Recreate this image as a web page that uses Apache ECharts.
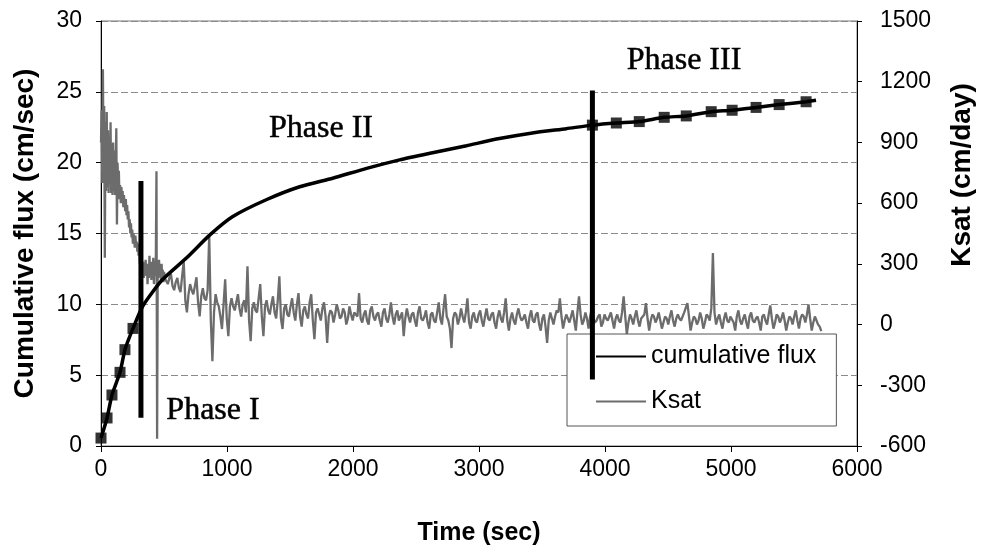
<!DOCTYPE html>
<html><head><meta charset="utf-8">
<script src="https://cdn.jsdelivr.net/npm/echarts@6/dist/echarts.min.js"></script>
<style>html,body{margin:0;padding:0;background:#fff}#c{width:982px;height:554px}</style>
</head><body><div id="c"></div>
<script>
// ---- data ----
const fluxTime  = [0,48,87,151,190,254,333,483,682,864,1046,1316,1577,1839,2108,2370,2631,2901,3162,3424,3693,3900,4090,4272,4470,4645,4843,5009,5199,5382,5596,5675];
const fluxValue = [0.56,1.98,3.6,5.2,6.8,8.3,9.9,11.7,13.3,14.9,16.2,17.4,18.3,18.9,19.6,20.2,20.7,21.2,21.7,22.1,22.4,22.65,22.8,22.9,23.2,23.3,23.6,23.7,23.9,24.1,24.3,24.4];
const fluxMarked = [1,1,1,1,1,1,0,0,0,0,0,0,0,0,0,0,0,0,0,0,0,1,1,1,1,1,1,1,1,1,1,0];

// Ksat (cm/day), early part sampled densely, later part coarser
const ksatEarlyStart = 0, ksatEarlyStep = 5.06;
const ksatEarly = [
 900,1060,700,1262,760,1080,330,1000,660,1050,
 680,960,650,900,700,1000,650,820,640,900,
 660,860,640,780,970,495,800,650,760,620,
 690,600,680,620,660,580,640,600,560,620,
 540,590,520,560,480,520,450,500,430,470,
 400,450,420,380,440,390,410,360,400,340,
 370,300,350,280,330,250,310,230,290,260,
 320,240,300,200,280,230,340,260,310,220,
 300,250,330,200,280,240,330,757,-564,300,
 230,320,250,290,220,300,240,270,210,260,
 230];
const ksatLateStart = 530, ksatLateStep = 25.3;
const ksatLate = [
 200,250,170,230,160,313,60,200,150,234,
 40,180,120,445,-181,150,90,-22,224,-57,
 130,70,150,40,120,288,-82,110,60,200,
 -57,120,50,140,30,239,-22,100,40,130,
 20,155,-10,90,30,150,-72,80,20,110,
 -91,70,10,100,30,80,0,90,20,60,
 155,10,70,0,90,20,60,-10,80,10,
 110,0,70,20,-57,80,10,60,-10,90,
 20,70,-20,60,10,110,0,150,20,-116,
 60,0,80,10,130,-20,60,10,70,-10,
 80,20,60,-20,70,10,130,-30,60,0,
 80,20,50,-20,70,10,60,-30,50,-91,
 60,0,70,130,-20,50,10,70,-30,140,
 0,60,-20,80,10,40,-10,50,20,60,
 -20,50,10,140,-47,50,0,70,-10,40,
 106,-30,50,10,60,-20,40,0,70,-10,
 50,20,60,106,-30,40,0,60,-20,50,
 20,353,0,50,-20,60,10,40,-30,70,
 0,50,-20,60,10,40,-30,50,0,95,
 -20,50,10,60,-30,40,0,70,-20,50,
 10,100,-30,40,0,-32];
// readings in between the later samples (half a step later each)
const ksatLateMid = [
 230,190,210,180,240,120,150,170,190,110,
 140,130,170,20,60,110,40,100,30,90,
 90,110,80,100,60,20,80,70,130,40,
 90,70,100,60,120,30,80,50,90,60,
 100,40,70,50,110,20,60,50,80,40,
 40,60,50,70,40,60,30,50,60,40,
 30,50,20,70,40,50,20,60,30,50,
 40,50,20,60,30,40,50,20,60,30,
 40,10,50,20,60,30,80,40,-20,30,
 50,30,40,60,10,40,20,50,20,40,
 30,50,10,40,30,60,20,30,20,50,
 40,30,10,40,20,50,0,30,-10,20,
 30,40,60,40,20,30,40,20,60,50,
 20,30,40,30,20,50,10,30,40,20,
 30,20,60,40,10,30,40,20,30,50,
 30,20,40,30,20,10,30,40,20,30,
 30,40,60,40,10,30,20,30,10,40,
 80,60,30,10,30,20,40,10,40,20,
 30,10,40,20,30,10,40,20,50,30,
 10,40,30,20,10,30,40,20,30,40,
 50,30,10,20,-10];

// phase dividers (vertical bars) in left-axis units
const dividerTime = [317, 3900];
const dividerLow  = [2.0, 4.7];
const dividerHigh = [18.7, 25.1];

// phase labels
const phaseNames = ['Phase I','Phase II','Phase III'];
const phaseTime  = [889, 1746, 4627];
const phaseFlux  = [2.5, 22.4, 27.2];

const xTickInterval = 1000, leftInterval = 5, rightInterval = 300;

// ---- build ----
const ksatData = [];
ksatEarly.forEach((v,i)=>ksatData.push([ksatEarlyStart + i*ksatEarlyStep, v]));
ksatLate.forEach((v,i)=>{
  ksatData.push([ksatLateStart + i*ksatLateStep, v]);
  if (i < ksatLateMid.length) ksatData.push([ksatLateStart + (i+0.5)*ksatLateStep, ksatLateMid[i]]);
});
const fluxData = fluxTime.map((t,i)=>[t, fluxValue[i]]);
const markerData = fluxTime.map((t,i)=>[t, fluxValue[i]]).filter((d,i)=>fluxMarked[i]);

const SANS = 'Liberation Sans, Arial, sans-serif';
const SERIF = 'Liberation Serif, Times New Roman, serif';
const plain = v => String(v);

const series = [
  { name:'Ksat', type:'line', yAxisIndex:1, data:ksatData, symbol:'none', z:2,
    lineStyle:{color:'#6c6c6c', width:2.3}, itemStyle:{color:'#6c6c6c'}, animation:false },
  { name:'cumulative flux', type:'line', yAxisIndex:0, data:fluxData, symbol:'none', smooth:0.2, z:3,
    lineStyle:{color:'#000', width:3.5}, itemStyle:{color:'#000'}, animation:false },
  { name:'flux markers', type:'scatter', yAxisIndex:0, data:markerData, symbol:'rect', symbolSize:11, z:4,
    itemStyle:{color:'#000'}, animation:false, silent:true }
];
dividerTime.forEach((t,i)=>{
  series.push({ name:'divider'+i, type:'line', yAxisIndex:0, symbol:'none', z:20,
    data:[[t, dividerLow[i]],[t, dividerHigh[i]]], lineStyle:{color:'#000', width:5, cap:'butt'}, animation:false, silent:true });
});
series.push({ name:'phases', type:'scatter', yAxisIndex:0, symbolSize:1, z:6,
  itemStyle:{color:'rgba(0,0,0,0)'}, animation:false, silent:true,
  data: phaseNames.map((n,i)=>({name:n, value:[phaseTime[i], phaseFlux[i]]})),
  label:{show:true, position:'inside', formatter:p=>p.name, color:'#000', opacity:1,
    textBorderColor:'#000', textBorderWidth:0.5, fontFamily:SERIF, fontSize:32} });

const chart = echarts.init(document.getElementById('c'));
chart.setOption({
  backgroundColor:'#fff',
  animation:false,
  grid:{left:101, right:125, top:21, bottom:108, show:true, borderColor:'#777', borderWidth:1},
  legend:{
    data:['cumulative flux','Ksat'], orient:'vertical', left:567, top:334,
    padding:[10,20,12,28], itemGap:20, itemWidth:50, itemHeight:14, itemTextGap:8,
    backgroundColor:'#fff', borderColor:'#555', borderWidth:1, z:10,
    itemStyle:{color:'rgba(0,0,0,0)', borderWidth:0, opacity:0},
    textStyle:{fontFamily:SANS, fontSize:25, color:'#000'}
  },
  xAxis:{ type:'value', min:0, max:6000, interval:xTickInterval,
    name:'Time (sec)', nameLocation:'middle', nameGap:75,
    nameTextStyle:{fontFamily:SANS, fontSize:25, fontWeight:'bold', color:'#000'},
    axisLine:{show:true, lineStyle:{color:'#000', width:1}},
    axisTick:{show:true, inside:false, length:6, lineStyle:{color:'#000'}},
    axisLabel:{fontFamily:SANS, fontSize:23, color:'#000', margin:12, formatter:plain},
    splitLine:{show:false} },
  yAxis:[
    { type:'value', min:0, max:30, interval:leftInterval, position:'left',
      name:'Cumulative flux (cm/sec)', nameLocation:'middle', nameGap:62, nameRotate:90,
      nameTextStyle:{fontFamily:SANS, fontSize:28, fontWeight:'bold', color:'#000'},
      axisLine:{show:true, lineStyle:{color:'#000', width:1}},
      axisTick:{show:true, length:5, lineStyle:{color:'#000'}},
      axisLabel:{fontFamily:SANS, fontSize:23, color:'#000', margin:19, formatter:plain},
      splitLine:{show:true, lineStyle:{color:'#8a8a8a', width:1, type:[7,3]}} },
    { type:'value', min:-600, max:1500, interval:rightInterval, position:'right',
      axisLine:{show:true, lineStyle:{color:'#000', width:1}},
      axisTick:{show:true, length:5, lineStyle:{color:'#000'}},
      axisLabel:{fontFamily:SANS, fontSize:23, color:'#000', margin:23, formatter:plain},
      splitLine:{show:false} }
  ],
  graphic:[
    { type:'text', x:962, y:175, rotation:Math.PI/2, z:10,
      style:{text:'Ksat (cm/day)', font:'bold 28px Liberation Sans, Arial, sans-serif', fill:'#000',
        textAlign:'center', textVerticalAlign:'middle'} }
  ],
  series: series
});
</script>
</body></html>
